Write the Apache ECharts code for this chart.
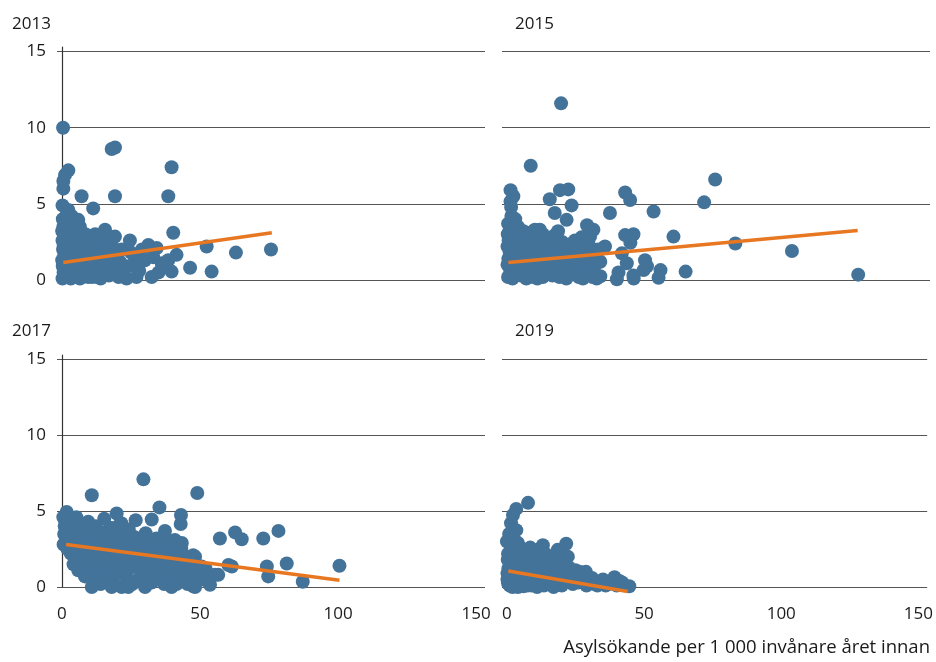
<!DOCTYPE html>
<html>
<head>
<meta charset="utf-8">
<script src="https://cdn.jsdelivr.net/npm/echarts@6/dist/echarts.min.js"></script>
<style>
  html, body { margin: 0; padding: 0; background: #fff; }
  #chart { width: 936px; height: 662px; }
</style>
</head>
<body>
<div id="chart"></div>
<script>
// panel titles and axis labels
var years = ['2013', '2015', '2017', '2019'];
var yTicks = [0, 5, 10, 15];
var xTicks = [0, 50, 100, 150];
var xTitle = 'Asylsökande per 1 000 invånare året innan';

// [asylsökande per 1000, värde]
var points2013 = [
  [0.4,10.0],[18,8.6],[19.2,8.7],[39.7,7.4],[2.3,7.2],[1.1,6.9],[0.5,6.5],[0.5,6.0],
  [7.1,5.5],[19.2,5.5],[38.5,5.5],[11.3,4.7],[0.2,4.9],[2.3,4.6],[3.5,4.2],[5.9,3.95],
  [6.5,3.5],[15.6,3.3],[19.2,2.85],[24.6,2.6],[31.3,2.3],[34.3,2.1],[40.3,3.1],[41.5,1.65],
  [38.5,1.3],[39.7,0.55],[36.1,1.1],[46.4,0.8],[52.4,2.2],[54.2,0.55],[63,1.8],[75.7,2.0],
  [26.4,1.5],[27.6,1.2],[30,1.3],[23.4,0.1],[27,0.2],[32.5,0.2],[21.6,2.0],[19.8,1.75],[20.4,0.9],
  [0.3,4.0],[0.5,3.5],[1,3.0],[0.2,2.6],[1.5,2.8],[2,2.2],[0.4,2.0],[0.8,1.6],[1.2,1.2],
  [0.3,0.9],[0.6,0.5],[0.2,0.1],[1.5,0.3],[2.5,0.8],[3,1.5],[3.5,2.5],[4,3.2],[4.5,1.9],
  [5,0.9],[5.5,0.2],[6,2.6],[7,1.4],[7.5,2.1],[8,0.5],[8.5,3.0],[9,1.8],[9.5,0.2],[10,2.4],
  [10.5,1.1],[11,2.7],[12,0.6],[12.5,1.9],[13,2.3],[14,0.1],[14.5,1.3],[15,2.6],[16,0.8],
  [16.5,1.9],[17,0.3],[18,2.3],[2.8,3.8],[1.8,4.3],[3.2,0.1],[4.2,0.4],[6.5,0.1],[11,0.2],
  [12,3.0],[13.5,1.5],[17.5,1.1],[22,0.3],[24,0.9],[25,1.8],[28,0.6],[29,2.0],[33,1.5],
  [35,0.5],[0.1,1.3],[0.1,3.2],[2.2,1.8],[5,3.7],
  [1,0.2],[2,0.5],[3,0.9],[4,1.2],[2.5,1.9],[3.8,2.8],[5.2,2.9],[6,1.8],[6.8,0.6],[7.8,1.2],
  [8.8,2.4],[9.2,0.9],[10,0.3],[10.8,1.8],[11.6,1.4],[12.8,0.2],[13.4,0.9],[14.2,2.0],
  [15.4,1.7],[16.2,2.6],[17.2,1.6],[18.6,0.6],[19.5,1.4],[20.5,0.2],[21,1.2],[0.6,2.3],
  [1.3,3.6],[2.4,3.0],[4.6,2.4],[3,0.3]
];
var points2015 = [
  [19.6,11.6],[8.6,7.5],[1.3,5.9],[2.3,5.5],[1.3,5.15],[15.5,5.3],[19.2,5.9],[22.2,5.95],
  [23.4,4.9],[17.3,4.4],[37.3,4.4],[21.6,3.95],[10.1,3.3],[11.9,3.3],[1.6,4.2],[0.4,3.7],
  [1,3.3],[31.3,3.3],[30.1,2.85],[18.5,3.2],[17.9,2.6],[24.6,2.6],[25.8,2.3],[35.5,2.2],
  [42.8,5.75],[44.6,5.25],[53.1,4.5],[71.4,5.1],[75.4,6.6],[60.3,2.85],[42.8,2.95],[45.8,3.0],
  [44.7,2.45],[35,2.1],[33.8,1.2],[41.6,1.75],[43.4,1.1],[50,1.3],[50.7,0.9],[49.5,0.65],
  [55.6,0.65],[54.9,0.15],[45.8,0.3],[45.9,0.1],[40.4,0.5],[39.8,0.05],[64.7,0.55],[82.7,2.4],
  [103.2,1.9],[127.2,0.35],[33.8,0.25],
  [0.3,3.0],[0.6,2.6],[0.2,2.2],[1,1.8],[0.5,1.4],[0.2,1.0],[1.2,0.6],[0.4,0.2],[2,0.1],
  [2.5,1.2],[3,2.4],[3.5,0.8],[4,1.6],[4.5,2.9],[5,0.3],[5.5,2.0],[6,1.1],[7,2.6],[7.5,0.5],
  [8,1.7],[9,2.2],[9.5,0.2],[10,1.3],[11,2.6],[11.5,0.7],[12,1.9],[13,0.2],[14,2.4],[14.5,1.1],
  [15,0.5],[16,1.7],[17,2.9],[18,0.9],[19,0.2],[19.5,1.9],[20,2.5],[21,1.3],[22,0.4],[23,2.0],
  [24,0.9],[25,1.6],[26,0.2],[27,1.2],[28,2.1],[29,0.6],[30,1.5],[31,0.2],[32,1.0],[33,2.0],
  [2,3.6],[3,4.0],[6,3.2],[1.5,4.8],[8,2.9],[13,3.0],[27,2.8],[29,3.6],
  [1.5,2.2],[2.5,0.5],[3.5,1.8],[4.5,0.5],[5,1.3],[6.5,2.3],[7,0.1],[8.5,1.2],[9,0.6],
  [10.5,2.0],[11,0.1],[12.5,1.4],[13.5,0.8],[15.5,2.2],[16.5,0.3],[17.5,1.5],[18.5,2.3],
  [19.5,0.9],[20.5,1.8],[21.5,0.1],[22.5,1.1],[23.5,2.4],[24.5,0.4],[25.5,1.0],[26.5,2.0],
  [27.5,0.1],[28.5,1.5],[29.5,2.4],[30.5,0.9],[31.5,1.8],[32.5,0.1],[33,1.3],[4,3.5],[5,2.6],[9.5,3.2]
];
var points2017 = [
  [29.5,7.1],[10.8,6.05],[49,6.2],[35.3,5.25],[32.5,4.45],[43.1,4.75],[43,4.15],[19.8,4.85],
  [15.3,4.5],[26.7,4.4],[30.3,3.55],[37.3,3.7],[57.2,3.2],[62.7,3.6],[65.1,3.15],[72.9,3.2],
  [78.4,3.7],[81.4,1.55],[74.2,1.35],[74.7,0.7],[87.2,0.35],[60.3,1.45],[61.5,1.35],[56.6,0.8],
  [53.6,0.15],[47.6,0.05],[100.5,1.4],[1.7,4.95],[3.5,4.5],[1.1,4.4],[2.3,3.75],[9.5,4.3],
  [10.8,0],[21.6,0],[30.1,0],[39.7,0],[48.2,0],[4.7,2.0],[5.9,1.1],[8.3,0.7],[26.4,1.35],
  [48.2,2.0],[50.6,1.35],[55.4,0.8],[43.4,2.9],[40.9,3.1],
  [0.5,4.6],[1,4.0],[0.8,3.5],[1.5,3.0],[0.6,2.8],[2,2.5],[3,3.8],[3.5,3.2],[4,2.7],[4.5,4.2],
  [5,3.5],[5.5,2.2],[6,1.6],[6.5,3.0],[7,4.0],[7.5,2.6],[8,1.9],[8.5,3.4],[9,2.9],[9.5,1.2],
  [10,2.3],[10.5,3.8],[11,1.7],[11.5,0.4],[12,2.8],[12.5,3.3],[13,1.1],[13.5,2.0],[14,0.2],
  [14.5,2.6],[15,3.6],[15.5,1.5],[16,0.7],[16.5,2.9],[17,2.2],[17.5,3.9],[18,1.3],[18.5,0.3],
  [19,2.5],[19.5,3.3],[20,1.8],[20.5,0.9],[21,2.9],[21.5,4.2],[22,1.4],[22.5,2.2],[23,3.6],
  [23.5,0.6],[24,2.7],[24.5,1.9],[25,3.1],[25.5,0.2],[26,2.4],[27,1.7],[27.5,0.5],[28,2.9],
  [28.5,2.2],[29,1.2],[30,2.6],[30.5,0.8],[31,1.9],[31.5,2.9],[32,1.4],[32.5,0.3],[33,2.3],
  [33.5,1.0],[34,2.7],[34.5,1.7],[35,0.5],[35.5,2.2],[36,1.3],[36.5,3.0],[37,0.2],[37.5,1.9],
  [38,2.6],[38.5,1.0],[39,2.3],[39.5,0.4],[40,1.6],[40.5,2.7],[41,1.1],[41.5,0.2],[42,1.9],
  [42.5,0.7],[43,1.4],[44,2.1],[44.5,0.5],[45,1.2],[45.5,0.2],[46,1.8],[47,1.3],[47.5,2.1],
  [48.5,1.5],[49,0.8],[50,1.0],[51,0.5],[52,1.2],[53,0.5],
  [2.5,4.1],[3.2,2.2],[4.2,1.5],[5.2,4.6],[6.2,2.6],[7.2,3.3],[8.2,2.4],[9.2,3.9],[10.2,1.5],
  [11.2,2.5],[12.2,4.0],[13.2,2.9],[14.2,1.6],[15.2,2.5],[16.2,3.4],[17.2,1.2],[18.2,2.8],
  [19.2,1.0],[20.2,4.0],[21.2,2.3],[22.2,3.0],[23.2,1.6],[24.2,3.8],[25.2,1.3],[26.2,3.3],
  [27.2,2.6],[28.2,1.5],[29.2,3.2],[30.2,1.7],[31.2,0.3],[32.2,2.4],[33.2,1.7],[34.2,3.2],
  [35.2,1.5],[36.2,2.1],[38.2,1.6],[39.2,3.0],[40.2,0.9],[41.2,2.2],[43.2,2.5],[44.2,1.0],
  [46.5,0.9],[48,0.6],[12,0.6],[18,0.0],[24,0.0]
];
var points2019 = [
  [7.7,5.55],[3.4,5.15],[2.2,4.75],[3.4,3.75],[1.6,2.9],[4,2.9],[0.4,2.2],[1,1.55],[0.2,0.9],
  [0.4,0.25],[11.3,2.45],[13.1,2.75],[18.5,2.45],[21.6,2.85],[22.2,2.0],[10.7,1.8],[14.9,1.8],
  [21,1.35],[28.8,1.0],[39.2,0.65],[44.6,0.05],[0.8,3.5],[1.5,4.2],[2.5,3.2],[0.3,1.8],
  [1.8,1.2],[2.5,2.4],[3,0.5],[4,1.6],[5,0.2],[5.5,1.0],[6,2.2],[7,0.6],[8,1.4],[9,0.1],
  [9.5,1.0],[10,2.0],[12,0.5],[12.5,1.3],[13.5,0.1],[14,2.2],[15.5,0.9],[16,0.2],[17,1.5],
  [18,0.4],[19,1.0],[20,0.1],[20.5,2.2],[23,0.8],[24,0.2],[25,1.1],[26,0.3],[27,0.6],[29,0.1],
  [30,0.5],[32,0.2],[34,0.3],[36,0.1],[38,0.4],[40,0.1],[42,0.3],[2,0],[6,0.05],[11,0],
  [15,0.5],[17,0],[2.8,1.6],[5,2.6],[7,1.9],[8.5,2.6],[0,3.0],[0.2,0.5],
  [0.5,1.2],[1.2,2.0],[1.5,0.6],[2.2,1.4],[2.8,0.1],[3.5,2.1],[3.8,1.0],[4.5,0.7],[5.5,1.6],
  [6.5,1.2],[7.5,0.1],[8,2.2],[9,1.6],[10.5,0.5],[11.5,1.2],[13,1.6],[14.5,0.5],[16.5,0.9],
  [17.5,2.0],[19.5,1.8],[21.5,0.6],[22.5,1.3],[24.5,0.7],[26.5,1.0],[28,0.3],[31,0.6],
  [33,0.1],[35,0.5],[37,0.2],[41,0.4],[1,0.1],[4,0]
];

// trend lines, start and end points
var trend2013 = [[0.5,1.15],[76,3.1]];
var trend2015 = [[0.5,1.15],[127,3.25]];
var trend2017 = [[1.5,2.8],[100.5,0.45]];
var trend2019 = [[0.5,1.05],[44,-0.3]];

var allPoints = [points2013, points2015, points2017, points2019];
var allTrends = [trend2013, trend2015, trend2017, trend2019];

var dotColor = '#44739a';
var lineColor = '#e87722';
var txt = '#1a1a1a';
var font = '"Open Sans", sans-serif';

var grids = [
  { left: 57, top: 47, width: 428, height: 233 },
  { left: 502, top: 47, width: 428, height: 233 },
  { left: 57, top: 355, width: 428, height: 232 },
  { left: 502, top: 355, width: 428, height: 232 }
];
var titlePos = [[12, 16], [515, 16], [12, 323], [515, 323]];

var xAxes = [], yAxes = [], series = [], titles = [];
for (var i = 0; i < 4; i++) {
  var isLeft = (i % 2 === 0);
  var isBottom = (i >= 2);
  xAxes.push({
    type: 'value', gridIndex: i, min: -1.8, max: 153.2,
    axisLine: { show: false }, axisTick: { show: false }, splitLine: { show: false },
    axisLabel: {
      show: isBottom, customValues: xTicks, margin: 19,
      color: txt, fontSize: 17, fontFamily: font
    }
  });
  yAxes.push({
    type: 'value', gridIndex: i, min: 0, max: 15.3,
    axisLine: { show: isLeft, lineStyle: { color: '#333', width: 1.2 } },
    axisTick: { show: false, customValues: yTicks },
    axisLabel: {
      show: isLeft, customValues: yTicks, margin: 11,
      color: txt, fontSize: 17, fontFamily: font
    },
    splitLine: { show: true, lineStyle: { color: '#555', width: 1.2 } }
  });
  series.push({
    type: 'scatter', xAxisIndex: i, yAxisIndex: i, clip: false,
    symbolSize: 14, itemStyle: { color: dotColor, opacity: 1 },
    data: allPoints[i], z: 2
  });
  series.push({
    type: 'line', xAxisIndex: i, yAxisIndex: i, clip: false,
    symbol: 'none', lineStyle: { color: lineColor, width: 3.5 },
    data: allTrends[i], z: 3
  });
  titles.push({
    text: years[i], left: titlePos[i][0], top: titlePos[i][1], padding: 0,
    textStyle: { color: txt, fontSize: 17, fontWeight: 'normal', fontFamily: font }
  });
}
titles.push({
  text: xTitle, right: 6, top: 638, padding: 0,
  textStyle: { color: txt, fontSize: 18.5, fontWeight: 'normal', fontFamily: font }
});

var chart = echarts.init(document.getElementById('chart'));
chart.setOption({
  animation: false,
  backgroundColor: '#fff',
  title: titles,
  grid: grids,
  xAxis: xAxes,
  yAxis: yAxes,
  series: series
});
</script>
</body>
</html>
